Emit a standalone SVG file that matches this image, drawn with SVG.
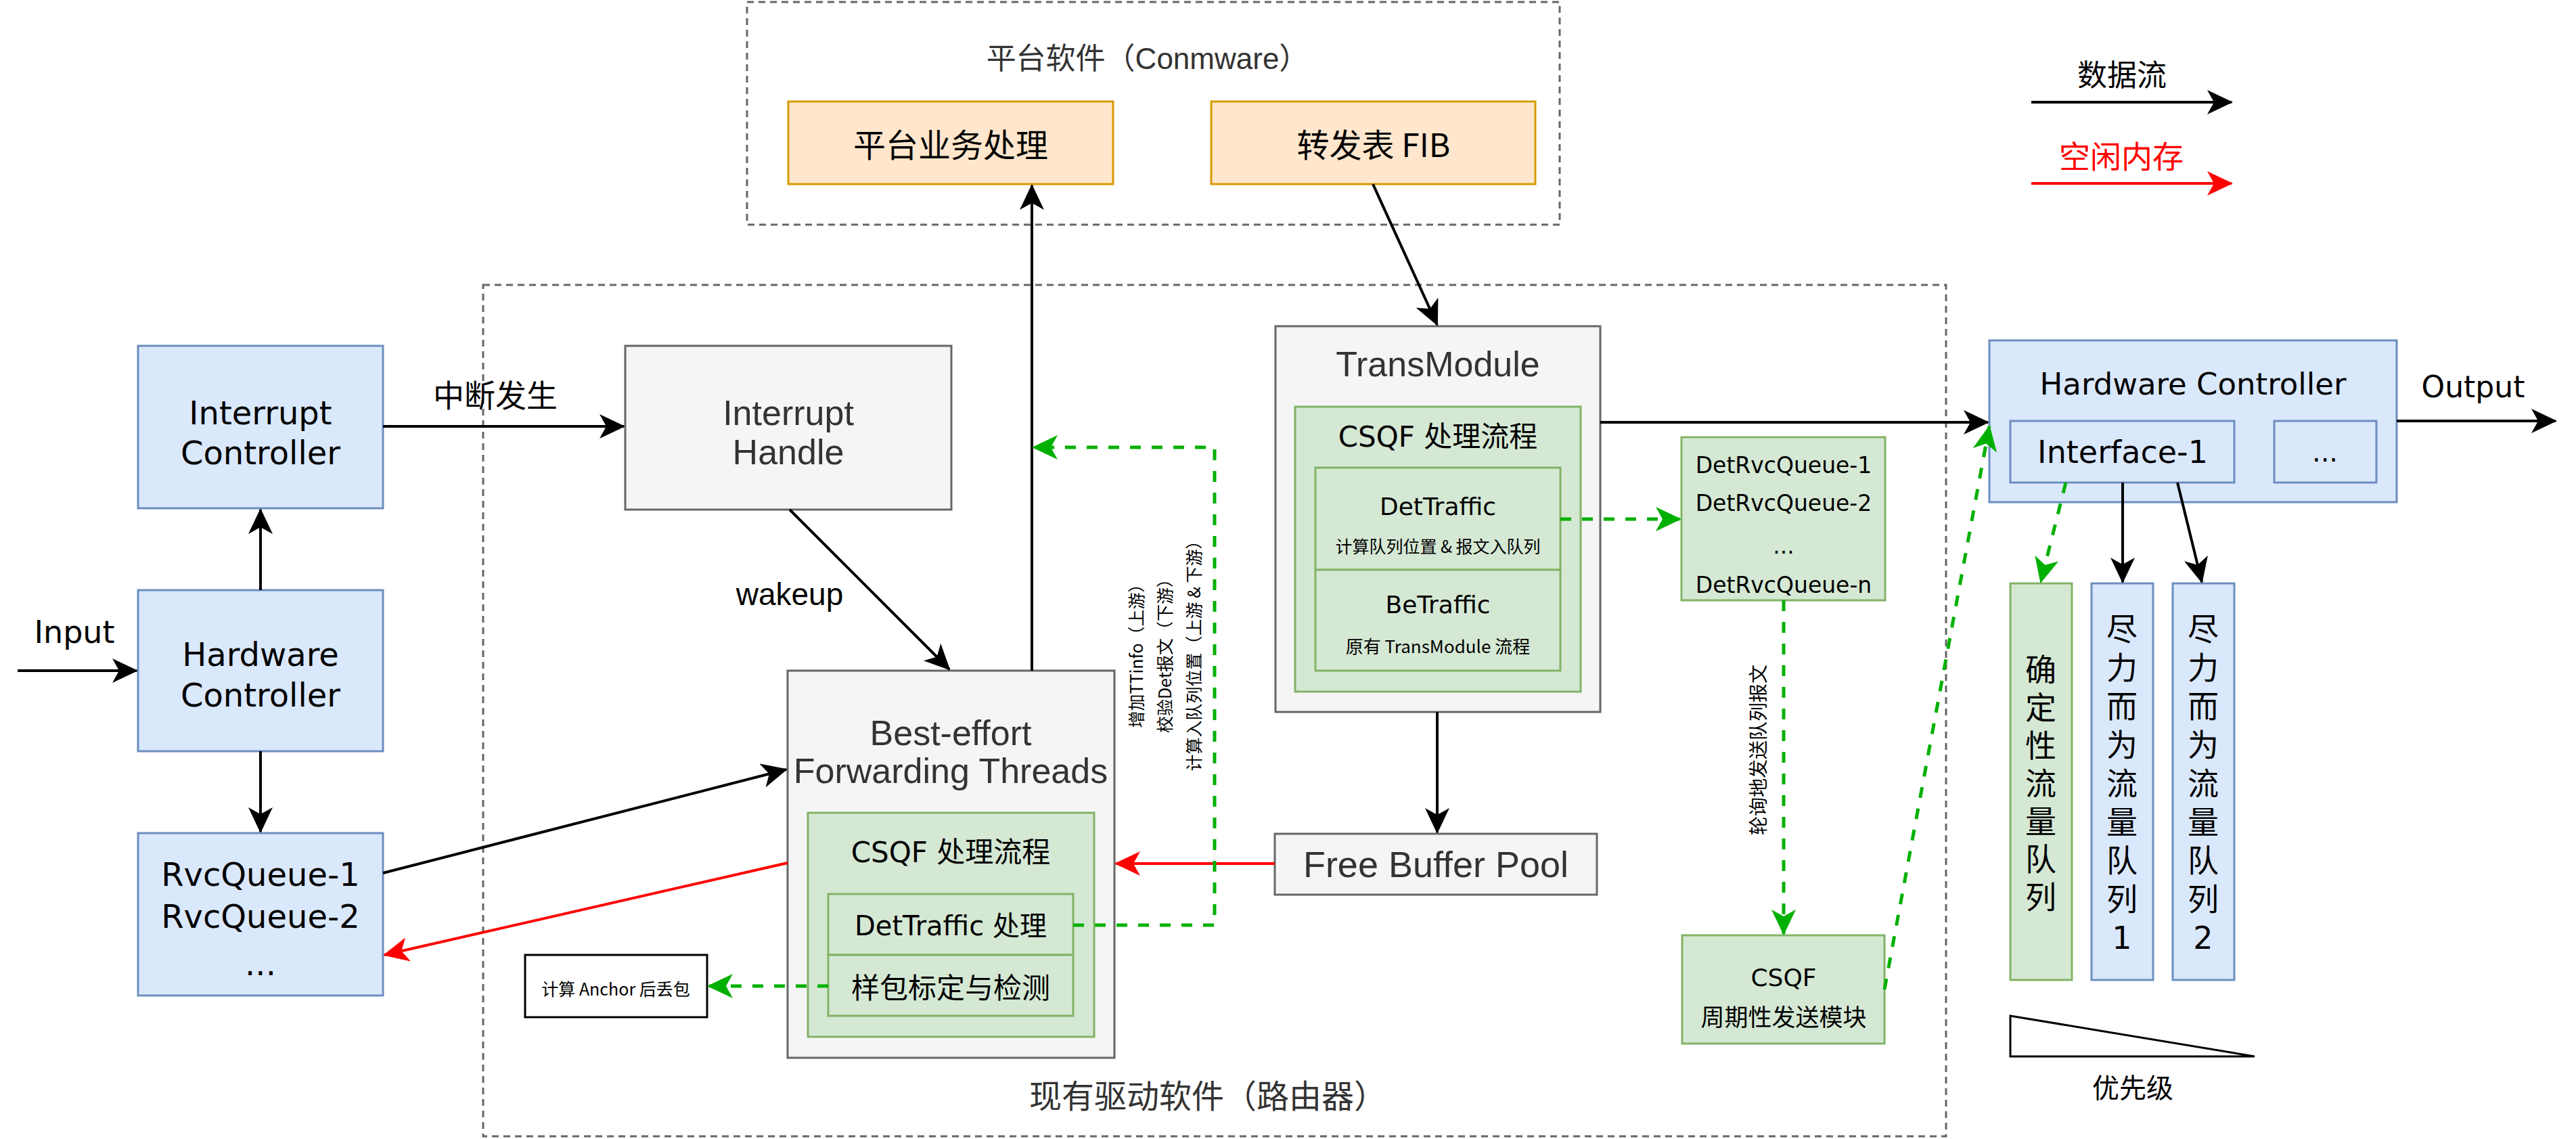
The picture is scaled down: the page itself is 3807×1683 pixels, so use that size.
<svg xmlns="http://www.w3.org/2000/svg" width="3807" height="1683" viewBox="0 0 3807 1683">
<defs>
<style>
text{text-anchor:middle;dominant-baseline:central}
.c{font-family:"DejaVu Sans","Noto Sans CJK SC",sans-serif;fill:#000}
.g{font-family:"Liberation Sans","Noto Sans CJK SC",sans-serif;fill:#333}
.k{font-family:"Noto Sans CJK SC",sans-serif;fill:#000}
.blue{fill:#dae8fc;stroke:#6c8ebf;stroke-width:3}
.orange{fill:#ffe6cc;stroke:#d79b00;stroke-width:3}
.gray{fill:#f5f5f5;stroke:#666;stroke-width:3}
.green{fill:#d5e8d4;stroke:#82b366;stroke-width:3}
.cont{fill:none;stroke:#666;stroke-width:3;stroke-dasharray:10 7}
.lb{fill:none;stroke:#000;stroke-width:4;marker-end:url(#ab)}
.lr{fill:none;stroke:#f00;stroke-width:4;marker-end:url(#ar)}
.lg{fill:none;stroke:#00b000;stroke-width:5;stroke-dasharray:16 16;marker-end:url(#ag)}
</style>
<marker id="ab" markerUnits="userSpaceOnUse" viewBox="0 0 38 36" markerWidth="38" markerHeight="36" refX="36" refY="18" orient="auto"><path d="M0,0 L38,18 L0,36 L10,18 Z" fill="#000"/></marker>
<marker id="ar" markerUnits="userSpaceOnUse" viewBox="0 0 38 36" markerWidth="38" markerHeight="36" refX="36" refY="18" orient="auto"><path d="M0,0 L38,18 L0,36 L10,18 Z" fill="#f00"/></marker>
<marker id="ag" markerUnits="userSpaceOnUse" viewBox="0 0 38 36" markerWidth="38" markerHeight="36" refX="36" refY="18" orient="auto"><path d="M0,0 L38,18 L0,36 L10,18 Z" fill="#00b000"/></marker>
</defs>
<rect width="3807" height="1683" fill="#fff"/>

<g id="containers">
<g id="platform-software">
<rect class="cont" x="1104" y="3" width="1201" height="329"/>
<text class="g" x="1696" y="86" font-size="44">平台软件（Conmware）</text>
</g>
<g id="driver-software">
<rect class="cont" x="714" y="421" width="2162" height="1258"/>
<text class="g" x="1785" y="1620" font-size="48">现有驱动软件（路由器）</text>
</g>
</g>

<g id="nodes">
<g id="platform-business"><rect class="orange" x="1165" y="150" width="480" height="122"/><text class="k" x="1405" y="211" font-size="48">平台业务处理</text></g>
<g id="fib"><rect class="orange" x="1790" y="150" width="479" height="122"/><text class="k" x="2030" y="211" font-size="48">转发表 FIB</text></g>

<g id="interrupt-controller"><rect class="blue" x="204" y="511" width="362" height="240"/><text class="c" font-size="48"><tspan x="385" y="610">Interrupt</tspan><tspan x="385" y="669">Controller</tspan></text></g>
<g id="hardware-controller-in"><rect class="blue" x="204" y="872" width="362" height="238"/><text class="c" font-size="48"><tspan x="385" y="967">Hardware</tspan><tspan x="385" y="1027">Controller</tspan></text></g>
<g id="rvc-queue"><rect class="blue" x="204" y="1231" width="362" height="240"/><text class="c" font-size="48"><tspan x="385" y="1292">RvcQueue-1</tspan><tspan x="385" y="1354">RvcQueue-2</tspan><tspan x="385" y="1424">...</tspan></text></g>

<g id="interrupt-handle"><rect class="gray" x="924" y="511" width="482" height="242"/><text class="g" font-size="52"><tspan x="1165" y="610">Interrupt</tspan><tspan x="1165" y="668">Handle</tspan></text></g>

<g id="be-forwarding"><rect class="gray" x="1164" y="991" width="483" height="572"/><text class="g" font-size="52"><tspan x="1405" y="1083">Best-effort</tspan><tspan x="1405" y="1139">Forwarding Threads</tspan></text>
<g id="be-csqf"><rect class="green" x="1194" y="1201" width="423" height="331"/><text class="c" x="1405" y="1259" font-size="42">CSQF 处理流程</text></g>
<g id="be-dettraffic"><rect class="green" x="1224" y="1321" width="362" height="90"/><text class="c" x="1405" y="1368" font-size="40">DetTraffic 处理</text></g>
<g id="be-sample"><rect class="green" x="1224" y="1411" width="362" height="90"/><text class="k" x="1405" y="1456" font-size="42">样包标定与检测</text></g>
</g>

<g id="anchor-drop"><rect x="776" y="1411" width="269" height="92" fill="#fff" stroke="#000" stroke-width="3"/><text class="k" x="910" y="1460" font-size="25">计算 Anchor 后丢包</text></g>

<g id="transmodule"><rect class="gray" x="1885" y="482" width="480" height="570"/><text class="g" x="2125" y="538" font-size="52">TransModule</text>
<g id="tm-csqf"><rect class="green" x="1914" y="601" width="422" height="421"/><text class="c" x="2125" y="645" font-size="42">CSQF 处理流程</text></g>
<g id="tm-dettraffic"><rect class="green" x="1944" y="691" width="362" height="151"/><text class="c" x="2125" y="748" font-size="36">DetTraffic</text><text class="k" x="2125" y="806" font-size="25">计算队列位置 &amp; 报文入队列</text></g>
<g id="tm-betraffic"><rect class="green" x="1944" y="842" width="362" height="149"/><text class="c" x="2125" y="893" font-size="36">BeTraffic</text><text class="k" x="2125" y="953" font-size="26">原有 TransModule 流程</text></g>
</g>

<g id="free-buffer-pool"><rect class="gray" x="1884" y="1232" width="476" height="90"/><text class="g" x="2122" y="1277" font-size="54">Free Buffer Pool</text></g>

<g id="det-rvc-queue"><rect class="green" x="2485" y="646" width="301" height="241"/><text class="c" font-size="33"><tspan x="2636" y="687">DetRvcQueue-1</tspan><tspan x="2636" y="743">DetRvcQueue-2</tspan><tspan x="2636" y="806">...</tspan><tspan x="2636" y="864">DetRvcQueue-n</tspan></text></g>

<g id="csqf-periodic"><rect class="green" x="2486" y="1382" width="299" height="160"/><text class="c" x="2636" y="1444" font-size="36">CSQF</text><text class="k" x="2636" y="1500" font-size="35">周期性发送模块</text></g>

<g id="hardware-controller-out"><rect class="blue" x="2940" y="503" width="602" height="239"/><text class="c" x="3241" y="567" font-size="45">Hardware Controller</text>
<g id="interface-1"><rect class="blue" x="2971" y="622" width="331" height="91"/><text class="c" x="3137" y="668" font-size="46">Interface-1</text></g>
<g id="interface-more"><rect class="blue" x="3361" y="622" width="151" height="91"/><text class="c" x="3436" y="668" font-size="40">...</text></g>
</g>

<g id="det-queue"><rect class="green" x="2971" y="862" width="91" height="586"/><text class="c" font-size="46"><tspan x="3016" y="990">确</tspan><tspan x="3016" y="1046">定</tspan><tspan x="3016" y="1102">性</tspan><tspan x="3016" y="1158">流</tspan><tspan x="3016" y="1214">量</tspan><tspan x="3016" y="1270">队</tspan><tspan x="3016" y="1326">列</tspan></text></g>
<g id="be-queue-1"><rect class="blue" x="3091" y="862" width="91" height="586"/><text class="c" font-size="46"><tspan x="3136" y="930">尽</tspan><tspan x="3136" y="987">力</tspan><tspan x="3136" y="1044">而</tspan><tspan x="3136" y="1101">为</tspan><tspan x="3136" y="1158">流</tspan><tspan x="3136" y="1215">量</tspan><tspan x="3136" y="1272">队</tspan><tspan x="3136" y="1329">列</tspan><tspan x="3136" y="1386">1</tspan></text></g>
<g id="be-queue-2"><rect class="blue" x="3211" y="862" width="91" height="586"/><text class="c" font-size="46"><tspan x="3256" y="930">尽</tspan><tspan x="3256" y="987">力</tspan><tspan x="3256" y="1044">而</tspan><tspan x="3256" y="1101">为</tspan><tspan x="3256" y="1158">流</tspan><tspan x="3256" y="1215">量</tspan><tspan x="3256" y="1272">队</tspan><tspan x="3256" y="1329">列</tspan><tspan x="3256" y="1386">2</tspan></text></g>

<g id="priority"><polygon points="2971,1501 2971,1561 3332,1561" fill="#fff" stroke="#000" stroke-width="3"/><text class="k" x="3152" y="1605" font-size="40">优先级</text></g>

<g id="legend">
<line x1="3002" y1="151" x2="3298" y2="151" class="lb"/>
<text class="k" x="3136" y="108" font-size="44">数据流</text>
<line x1="3002" y1="271" x2="3298" y2="271" class="lr"/>
<text class="k" x="3135" y="228" font-size="46" style="fill:#f00">空闲内存</text>
</g>
</g>

<g id="connectors">
<line class="lb" x1="26" y1="991" x2="202" y2="991"/>
<line class="lb" x1="385" y1="872" x2="385" y2="753"/>
<line class="lb" x1="385" y1="1110" x2="385" y2="1229"/>
<line class="lb" x1="566" y1="630" x2="922" y2="630"/>
<line class="lb" x1="1167" y1="753" x2="1403" y2="989"/>
<line class="lb" x1="566" y1="1290" x2="1162" y2="1137"/>
<line class="lb" x1="1525" y1="991" x2="1525" y2="274"/>
<line class="lb" x1="2029" y1="272" x2="2124" y2="480"/>
<line class="lb" x1="2365" y1="624" x2="2938" y2="624"/>
<line class="lb" x1="2124" y1="1052" x2="2124" y2="1230"/>
<line class="lr" x1="1884" y1="1276" x2="1649" y2="1276"/>
<line class="lr" x1="1164" y1="1275" x2="568" y2="1411"/>
<polyline class="lg" points="1586,1367 1795,1367 1795,661 1527,661"/>
<line class="lg" x1="1224" y1="1457" x2="1047" y2="1457"/>
<line class="lg" x1="2306" y1="767" x2="2483" y2="767"/>
<line class="lg" x1="2636" y1="887" x2="2636" y2="1380"/>
<line class="lg" x1="2785" y1="1462" x2="2940" y2="630"/>
<line class="lg" x1="3053" y1="713" x2="3016" y2="860"/>
<line class="lb" x1="3137" y1="713" x2="3137" y2="860"/>
<line class="lb" x1="3218" y1="713" x2="3254" y2="860"/>
<line class="lb" x1="3542" y1="622" x2="3777" y2="622"/>
</g>

<g id="connector-labels">
<text class="c" x="110" y="934" font-size="46">Input</text>
<text class="k" x="732" y="581" font-size="46">中断发生</text>
<text class="g" x="1167" y="878" font-size="46" style="fill:#000">wakeup</text>
<text class="c" x="3655" y="571" font-size="44">Output</text>
<text class="k" font-size="25" transform="translate(1678,963) rotate(-90)" x="0" y="0">增加TTinfo（上游）</text>
<text class="k" font-size="25" transform="translate(1720,963) rotate(-90)" x="0" y="0">校验Det报文（下游）</text>
<text class="k" font-size="25" transform="translate(1763,963) rotate(-90)" x="0" y="0">计算入队列位置（上游 &amp; 下游）</text>
<text class="k" font-size="28" transform="translate(2597,1108) rotate(-90)" x="0" y="0">轮询地发送队列报文</text>
</g>
</svg>
